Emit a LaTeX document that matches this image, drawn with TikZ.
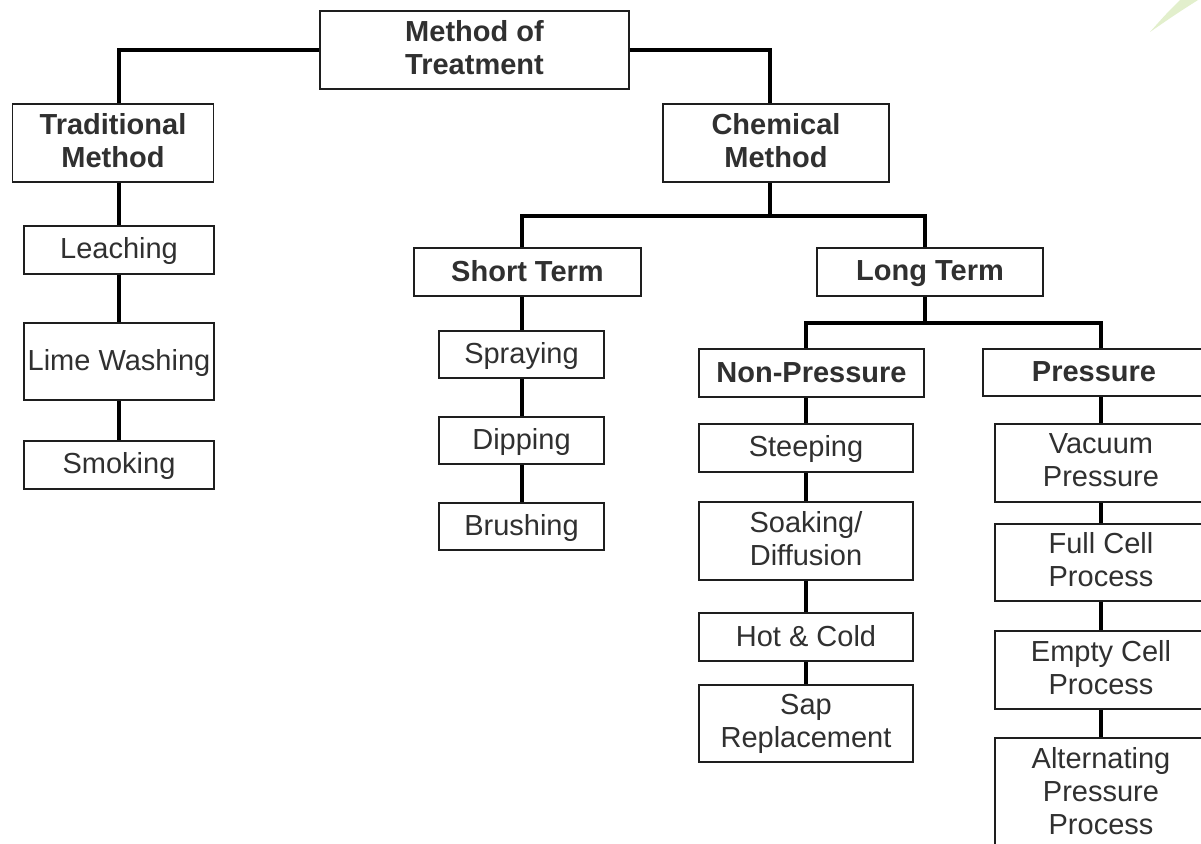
\documentclass[tikz,border=0pt]{standalone}
\usepackage{fontspec}
\setmainfont{Liberation Sans}
\definecolor{ink}{HTML}{303030}
\definecolor{edge}{HTML}{1E1E1E}
\definecolor{leaf}{HTML}{E2EFCC}
\newcommand\boxstrut{\rule[-6pt]{0pt}{30pt}}
\tikzset{
  box/.style={draw=edge, line width=1.5pt, fill=white, text=ink, align=center,
    inner sep=0pt, font=\fontsize{29}{33}\selectfont,
    execute at begin node=\boxstrut, execute at end node=\boxstrut},
  head/.style={box, font=\fontsize{29}{33}\selectfont\bfseries},
  multi/.style={execute at begin node=\rule{0pt}{28pt}},
  link/.style={draw=black, line width=4pt, line cap=butt, line join=miter},
}

\begin{document}
\begin{tikzpicture}[x=1pt,y=-1pt]
  \clip (0,0) rectangle (1201,843);
  \fill[white] (0,0) rectangle (1201,843);
  \fill[leaf] (1150,32) .. controls (1166,14) .. (1180,0) -- (1198,0)
    .. controls (1176,14) .. (1150,32) -- cycle;

  % top levels
  \node[head, multi, minimum width=309, minimum height=78] (treat) at (474.5,50) {Method of\\Treatment};
  \node[head, multi, minimum width=201, minimum height=78] (trad) at (113,143) {Traditional\\Method};
  \node[head, multi, minimum width=226, minimum height=78] (chem) at (776,143) {Chemical\\Method};
  \node[head, minimum width=227, minimum height=48] (short) at (527.5,272) {Short Term};
  \node[head, minimum width=226, minimum height=48] (long) at (930,272) {Long Term};
  \node[head, minimum width=225, minimum height=48] (nonp) at (811.5,373) {Non-Pressure};
  \node[head, minimum width=222, minimum height=47] (pres) at (1094,372.5) {Pressure};

  % traditional
  \node[box, minimum width=190, minimum height=48] (leach) at (119,250) {Leaching};
  \node[box, minimum width=190, minimum height=77] (lime) at (119,361.5) {Lime Washing};
  \node[box, minimum width=190, minimum height=48] (smoke) at (119,465) {Smoking};

  % short term
  \node[box, minimum width=165, minimum height=47] (spray) at (521.5,354.5) {Spraying};
  \node[box, minimum width=165, minimum height=47] (dip) at (521.5,440.5) {Dipping};
  \node[box, minimum width=165, minimum height=47] (brush) at (521.5,526.5) {Brushing};

  % non-pressure
  \node[box, minimum width=214, minimum height=48] (steep) at (806,448) {Steeping};
  \node[box, multi, minimum width=214, minimum height=78] (soak) at (806,541) {Soaking/\\Diffusion};
  \node[box, minimum width=214, minimum height=48] (hot) at (806,637) {Hot \& Cold};
  \node[box, multi, minimum width=214, minimum height=77] (sap) at (806,723.5) {Sap\\Replacement};

  % pressure
  \node[box, multi, minimum width=212, minimum height=78] (vac) at (1101,463) {Vacuum\\Pressure};
  \node[box, multi, minimum width=212, minimum height=77] (full) at (1101,562.5) {Full Cell\\Process};
  \node[box, multi, minimum width=212, minimum height=78] (empty) at (1101,670) {Empty Cell\\Process};
  \node[box, multi, minimum width=212, minimum height=112] (alt) at (1101,794) {Alternating\\Pressure\\Process};

  % connectors
  \coordinate (chembus) at (770,216);
  \coordinate (longbus) at (924.5,323);
  \draw[link] (treat.west) -| (leach |- trad.north);
  \draw[link] (treat.east) -| (chembus |- chem.north);
  \draw[link] (leach |- trad.south) -- (leach.north);
  \draw[link] (leach.south) -- (lime.north);
  \draw[link] (lime.south) -- (smoke.north);
  \draw[link] (chembus |- chem.south) -- (chembus);
  \draw[link] (spray |- short.north) |- (chembus) -| (longbus |- long.north);
  \draw[link] (spray |- short.south) -- (spray.north);
  \draw[link] (spray.south) -- (dip.north);
  \draw[link] (dip.south) -- (brush.north);
  \draw[link] (longbus |- long.south) -- (longbus);
  \draw[link] (steep |- nonp.north) |- (longbus) -| (vac |- pres.north);
  \draw[link] (steep |- nonp.south) -- (steep.north);
  \draw[link] (steep.south) -- (soak.north);
  \draw[link] (soak.south) -- (hot.north);
  \draw[link] (hot.south) -- (sap.north);
  \draw[link] (vac |- pres.south) -- (vac.north);
  \draw[link] (vac.south) -- (full.north);
  \draw[link] (full.south) -- (empty.north);
  \draw[link] (empty.south) -- (alt.north);
\end{tikzpicture}
\end{document}
